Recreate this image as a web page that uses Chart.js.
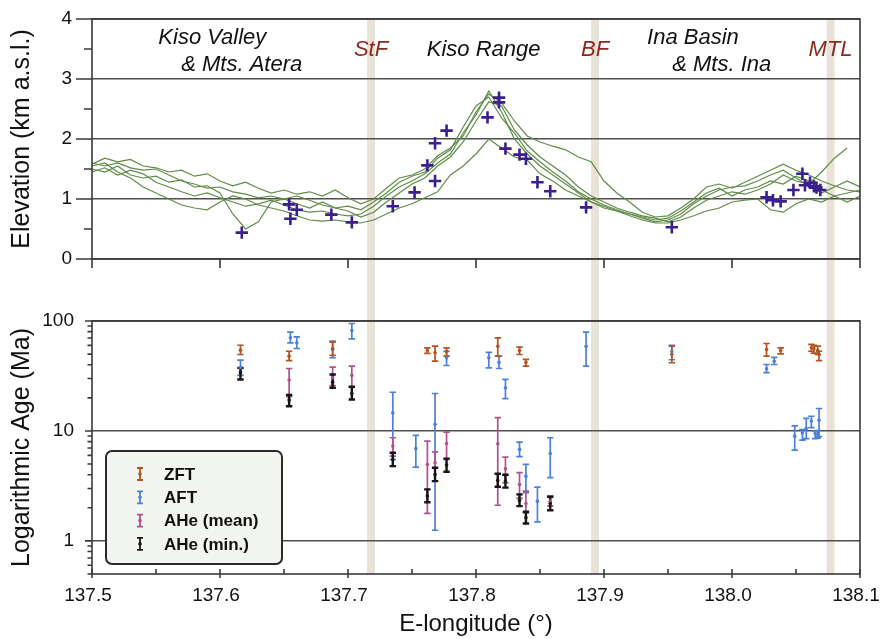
<!DOCTYPE html>
<html><head><meta charset="utf-8">
<script src="https://cdn.jsdelivr.net/npm/chart.js@4.4.1/dist/chart.umd.min.js"></script>
<style>
html,body{margin:0;padding:0;background:#fff;}
#wrap{position:relative;width:882px;height:639px;overflow:hidden;background:#fff;}
canvas{position:absolute;left:0;}
#c1{top:0}
#c2{top:300px}
</style></head><body>
<div id="wrap"><canvas id="c1" width="882" height="300"></canvas><canvas id="c2" width="882" height="339"></canvas></div>
<script>
// ---------------- DATA ----------------
const lonGrid = [137.50,137.51,137.52,137.53,137.54,137.55,137.56,137.57,137.58,137.59,
  137.60,137.61,137.62,137.63,137.64,137.65,137.66,137.67,137.68,137.69,
  137.70,137.71,137.72,137.73,137.74,137.75,137.76,137.77,137.78,137.79,
  137.80,137.81,137.82,137.83,137.84,137.85,137.86,137.87,137.88,137.89,
  137.90,137.91,137.92,137.93,137.94,137.95,137.96,137.97,137.98,137.99,
  138.00,138.01,138.02,138.03,138.04,138.05,138.06,138.07,138.08,138.09,138.10];
const profile1 = [1.58,1.68,1.62,1.66,1.55,1.52,1.45,1.48,1.38,1.42, 1.30,1.22,1.28,1.18,1.10,1.15,1.08,1.12,1.05,1.15, 1.02,0.92,1.00,1.18,1.35,1.40,1.50,1.72,1.85,2.05, 2.45,2.75,2.60,2.30,2.05,1.95,1.88,1.82,1.70,1.62, 1.30,1.10,0.95,0.78,0.70,0.72,0.85,1.00,1.20,1.25, 1.18,1.28,1.38,1.48,1.58,1.48,1.40,1.30,1.22,1.15,1.12];
const profile2 = [1.50,1.45,1.55,1.40,1.35,1.38,1.28,1.32,1.20,1.22, 1.10,0.75,0.50,0.62,0.95,1.00,0.92,0.85,0.95,0.85, 0.80,0.70,0.78,0.95,1.10,1.25,1.35,1.55,1.70,1.95, 2.30,2.62,2.55,2.15,1.90,1.70,1.55,1.40,1.20,1.05, 0.95,0.85,0.78,0.72,0.68,0.62,0.70,0.85,0.98,1.05, 1.12,1.08,1.15,1.25,1.40,1.30,1.25,1.45,1.68,1.85,null];
const profile3 = [1.55,1.60,1.45,1.35,1.20,1.10,1.00,0.90,0.85,0.82, 0.95,1.05,1.00,0.90,0.85,0.80,0.72,0.65,0.63,0.65, 0.62,0.60,0.65,0.75,0.85,0.92,1.02,1.12,1.40,1.55, 1.75,2.00,1.85,1.70,1.65,1.42,1.30,1.15,1.05,0.95, 0.88,0.80,0.72,0.65,0.60,0.60,0.65,0.72,0.80,0.85, 0.95,0.98,1.00,0.82,0.78,0.92,1.00,0.95,1.05,1.10,1.15];
const profile4 = [1.45,1.52,1.40,1.48,1.42,1.28,1.20,1.12,1.05,1.10, 1.02,0.95,0.88,0.92,0.98,0.90,0.82,0.78,0.80,0.75, 0.72,0.75,0.88,1.05,1.20,1.30,1.42,1.60,1.75,2.10, 2.40,2.80,2.45,2.00,1.75,1.55,1.40,1.25,1.10,0.95, 0.85,0.80,0.75,0.68,0.62,0.65,0.75,0.92,1.05,1.15, 1.20,1.22,1.30,1.40,1.48,1.35,1.22,1.10,1.20,1.30,1.20];
const profile5 = [1.60,1.55,1.60,1.52,1.48,1.50,1.40,1.30,1.25,1.18, 1.20,1.12,1.08,1.02,1.05,1.00,1.05,0.98,0.90,0.85, 0.88,0.82,0.95,1.10,1.28,1.38,1.45,1.68,1.82,2.20, 2.55,2.70,2.35,2.10,1.80,1.62,1.45,1.30,1.12,1.00, 0.90,0.82,0.75,0.70,0.65,0.68,0.80,0.95,1.10,1.18, 1.05,1.15,1.20,1.30,1.25,1.38,1.30,1.15,1.05,0.95,1.05];

const sampleLon  = [137.617,137.654,137.655,137.660,137.687,137.703,137.735,137.752,137.762,137.768,137.768,137.777,137.809,137.818,137.818,137.823,137.834,137.839,137.848,137.858,137.886,137.953,138.027,138.032,138.038,138.048,138.055,138.057,138.061,138.064,138.066,138.069];
const sampleElev = [0.44,0.91,0.67,0.82,0.74,0.61,0.88,1.11,1.56,1.30,1.93,2.14,2.36,2.69,2.61,1.84,1.74,1.67,1.28,1.13,0.86,0.53,1.03,0.98,0.96,1.15,1.42,1.23,1.27,1.21,1.19,1.15];

const faultNames = ['StF','BF','MTL'];
const faultLon   = [137.718,137.893,138.077];

const regionNames = ['Kiso Valley','& Mts. Atera','Kiso Range','Ina Basin','& Mts. Ina'];

const zftLon = [137.616,137.654,137.688,137.762,137.768,137.777,137.817,137.834,137.839,137.953,138.027,138.038,138.062,138.064,138.067,138.068];
const zftAge = [54.3,47.9,55.9,53.9,51.4,53.1,59.0,53.9,42.2,49.6,55.1,53.9,57.0,55.9,54.0,49.6];
const zftLo  = [49.6,43.7,48.6,50.7,43.1,47.9,47.9,49.6,38.8,41.7,47.9,50.3,53.1,51.0,49.6,43.7];
const zftHi  = [60.2,53.1,64.2,57.0,59.0,57.0,70.3,57.8,44.7,59.0,62.4,57.0,61.2,60.0,59.0,53.1];

const aftLon = [137.616,137.655,137.660,137.688,137.703,137.735,137.753,137.768,137.777,137.810,137.818,137.823,137.834,137.839,137.848,137.858,137.886,137.953,138.027,138.033,138.049,138.055,138.058,138.062,138.065,138.067,138.068];
const aftAge = [37.8,70.3,63.3,55.0,82.0,14.6,6.93,11.5,46.3,46.3,42.0,24.7,6.79,3.88,2.30,6.24,59.0,52.7,36.7,43.1,8.97,9.6,10.5,12.3,9.5,9.3,12.5];
const aftLo  = [32.0,63.3,56.2,46.3,68.9,5.5,4.69,1.25,39.4,37.5,37.0,19.7,5.83,2.74,1.49,3.76,38.8,44.4,33.9,40.2,6.69,8.25,8.5,10.7,8.5,8.6,8.9];
const aftHi  = [44.0,79.1,71.8,65.5,94.9,22.5,9.1,21.9,53.0,51.9,48.0,29.4,7.9,4.96,3.08,8.67,79.1,60.0,40.2,46.6,11.1,10.3,13.0,13.6,10.0,10.1,16.0];

const aheMeanLon = [137.654,137.688,137.703,137.735,137.762,137.768,137.777,137.817,137.823,137.834,137.839,137.858];
const aheMeanAge = [29.0,30.5,32.0,7.28,4.96,5.13,7.69,7.64,4.53,3.26,2.19,2.30];
const aheMeanLo  = [20.5,25.9,25.2,5.9,1.78,3.5,5.5,2.11,3.38,2.44,1.80,2.08];
const aheMeanHi  = [37.0,38.0,38.8,8.67,8.08,6.46,9.77,13.2,5.79,4.17,2.84,2.56];

const aheMinLon = [137.616,137.654,137.688,137.703,137.735,137.762,137.768,137.777,137.817,137.823,137.834,137.839,137.858];
const aheMinAge = [33.8,19.1,27.8,21.9,5.5,2.56,4.02,4.89,3.55,3.50,2.33,1.62,2.19];
const aheMinLo  = [29.4,16.8,24.7,19.3,4.79,2.25,3.5,4.25,3.11,3.05,2.07,1.44,1.90];
const aheMinHi  = [37.5,21.2,32.6,25.2,6.34,2.94,4.63,5.6,4.08,4.0,2.65,1.84,2.52];

const seriesNames = ['ZFT','AFT','AHe (mean)','AHe (min.)'];
const lonTicks = [137.5,137.6,137.7,137.8,137.9,138.0,138.1];
const lonMinorTicks = [137.55,137.65,137.75,137.85,137.95,138.05];
const elevTicks = [0,1,2,3,4];
const elevMinorTicks = [0.5,1.5,2.5,3.5];
const ageTicks = [1,10,100];
const ageMinorTicks = [0.5,0.6,0.7,0.8,0.9,2,3,4,5,6,7,8,9,20,30,40,50,60,70,80,90];

// ---------------- STYLE ----------------
const FONT = 'Liberation Sans, Arial, Helvetica, sans-serif';
Chart.defaults.font.family = FONT;
Chart.defaults.color = '#111';
const GRID = '#4f4f4f';
const AXIS = '#3a3a3a';
const BAND = '#eae2d7';
const BAND_HALF = 0.0031;
const LINE_GREEN = '#5e8c47';
const CROSS = '#3b1f8e';
const ageColors = ['#b4531f','#4b80dd','#b3508e','#151515'];
const ageWidths = [1.7,1.7,1.7,2.4];

// annotation placement (lon, elevation) for text labels
const regionPos = [[137.594,3.68],[137.617,3.24],[137.806,3.49],[137.9695,3.68],[137.992,3.24]];
const faultLabelElev = 3.49;

// ---------------- PLUGINS ----------------
function bandsPlugin(isTop){
  return {id:'bands', beforeDraw(chart){
    const {ctx, chartArea:a, scales:{x}} = chart;
    ctx.save(); ctx.fillStyle = BAND;
    faultLon.forEach(l=>{
      const x0 = x.getPixelForValue(l-BAND_HALF), x1 = x.getPixelForValue(l+BAND_HALF);
      const y0 = isTop ? a.top : 0, y1 = isTop ? chart.height : a.bottom;
      ctx.fillRect(x0, y0, x1-x0, y1-y0);
    });
    ctx.restore();
  }};
}
function frameTicksPlugin(spec){
  return {id:'frameTicks', afterDraw(chart){
    const {ctx, chartArea:a, scales:{x,y}} = chart;
    ctx.save(); ctx.strokeStyle = AXIS; ctx.lineWidth = 1.6;
    ctx.strokeRect(a.left, a.top, a.right-a.left, a.bottom-a.top);
    ctx.beginPath();
    spec.yMajor.forEach(v=>{const p=y.getPixelForValue(v); ctx.moveTo(a.left-spec.yMajorLen,p); ctx.lineTo(a.left,p);});
    spec.yMinor.forEach(v=>{const p=y.getPixelForValue(v); ctx.moveTo(a.left-spec.yMinorLen,p); ctx.lineTo(a.left,p);});
    spec.xMajor.forEach(v=>{const p=x.getPixelForValue(v); ctx.moveTo(p,a.bottom-spec.xMajorIn); ctx.lineTo(p,a.bottom+spec.xMajorOut);});
    spec.xMinor.forEach(v=>{const p=x.getPixelForValue(v); ctx.moveTo(p,a.bottom-spec.xMinorIn); ctx.lineTo(p,a.bottom);});
    ctx.stroke(); ctx.restore();
  }};
}
const annotationPlugin = {id:'annot', afterDatasetsDraw(chart){
  const {ctx, scales:{x,y}} = chart;
  ctx.save();
  ctx.font = 'italic 22px ' + FONT; ctx.textAlign='center'; ctx.textBaseline='middle';
  ctx.fillStyle = '#111';
  regionNames.forEach((t,i)=>ctx.fillText(t, x.getPixelForValue(regionPos[i][0]), y.getPixelForValue(regionPos[i][1])));
  ctx.fillStyle = '#8b2a1c';
  faultNames.forEach((t,i)=>ctx.fillText(t, x.getPixelForValue(faultLon[i]), y.getPixelForValue(faultLabelElev)));
  ctx.restore();
}};

const ageSeries = [
  {lon:aftLon, lo:aftLo, hi:aftHi, c:1},
  {lon:aheMeanLon, lo:aheMeanLo, hi:aheMeanHi, c:2},
  {lon:aheMinLon, lo:aheMinLo, hi:aheMinHi, c:3},
  {lon:zftLon, lo:zftLo, hi:zftHi, c:0}
];
const errorBarPlugin = {id:'errbars', beforeDatasetsDraw(chart){
  const {ctx, scales:{x,y}} = chart;
  ctx.save();
  ageSeries.forEach(s=>{
    ctx.strokeStyle = ageColors[s.c]; ctx.lineWidth = ageWidths[s.c];
    ctx.beginPath();
    s.lon.forEach((l,i)=>{
      const px = x.getPixelForValue(l), p1 = y.getPixelForValue(s.lo[i]), p2 = y.getPixelForValue(s.hi[i]);
      ctx.moveTo(px,p1); ctx.lineTo(px,p2);
      ctx.moveTo(px-3.2,p1); ctx.lineTo(px+3.2,p1);
      ctx.moveTo(px-3.2,p2); ctx.lineTo(px+3.2,p2);
    });
    ctx.stroke();
  });
  ctx.restore();
}};
const legendPlugin = {id:'ageLegend', afterDraw(chart){
  const {ctx, chartArea:a} = chart;
  const L = a.left+14, T = a.top+130, W = 176, H = 113, r = 6;
  ctx.save();
  ctx.beginPath();
  ctx.moveTo(L+r,T); ctx.lineTo(L+W-r,T); ctx.arcTo(L+W,T,L+W,T+r,r);
  ctx.lineTo(L+W,T+H-r); ctx.arcTo(L+W,T+H,L+W-r,T+H,r);
  ctx.lineTo(L+r,T+H); ctx.arcTo(L,T+H,L,T+H-r,r);
  ctx.lineTo(L,T+r); ctx.arcTo(L,T,L+r,T,r); ctx.closePath();
  ctx.fillStyle = '#f3f5f0'; ctx.fill();
  ctx.strokeStyle = '#2b2b2b'; ctx.lineWidth = 2; ctx.stroke();
  seriesNames.forEach((n,i)=>{
    const cy = T+23+i*23.3, cx = L+34;
    ctx.strokeStyle = ageColors[i]; ctx.fillStyle = ageColors[i]; ctx.lineWidth = 1.8;
    ctx.beginPath();
    ctx.moveTo(cx,cy-6); ctx.lineTo(cx,cy+6);
    ctx.moveTo(cx-3,cy-6); ctx.lineTo(cx+3,cy-6);
    ctx.moveTo(cx-3,cy+6); ctx.lineTo(cx+3,cy+6);
    ctx.stroke();
    ctx.beginPath(); ctx.arc(cx,cy,1.8,0,Math.PI*2); ctx.fill();
    ctx.fillStyle = '#111'; ctx.font = 'bold 17px ' + FONT;
    ctx.textAlign='left'; ctx.textBaseline='middle';
    ctx.fillText(n, L+58, cy+1);
  });
  ctx.restore();
}};

// ---------------- TOP CHART ----------------
const profiles = [profile1,profile2,profile3,profile4,profile5];
new Chart(document.getElementById('c1'), {
  type:'line',
  data:{datasets:[
    {type:'scatter', data: sampleLon.map((x,i)=>({x, y:sampleElev[i]})), pointStyle:'cross', pointRadius:6.2, pointBorderWidth:2.6, pointBorderColor:CROSS, pointBackgroundColor:CROSS},
    ...profiles.map(p=>({data: lonGrid.map((x,i)=>({x, y:p[i]})), borderColor:LINE_GREEN, borderWidth:1.2, pointRadius:0, tension:0, spanGaps:false}))
  ]},
  options:{
    responsive:false, animation:false, devicePixelRatio:1, events:[],
    layout:{padding:{top:19,right:22,left:0,bottom:0}},
    plugins:{legend:{display:false}, tooltip:{enabled:false}},
    scales:{
      x:{type:'linear', min:137.5, max:138.1, ticks:{display:false, stepSize:0.1}, grid:{display:false}, border:{display:false},
         afterFit(s){s.height=41; s.paddingLeft=0; s.paddingRight=0;}},
      y:{type:'linear', min:0, max:4, ticks:{stepSize:1, padding:20, color:'#111', font:{size:19}},
         grid:{color:GRID, lineWidth:1.6, drawTicks:false}, border:{display:false},
         title:{display:true, text:'Elevation (km a.s.l.)', color:'#111', font:{size:25}, padding:{top:7,bottom:0}},
         afterFit(s){s.width=92; s.paddingTop=0; s.paddingBottom=0;}}
    }
  },
  plugins:[bandsPlugin(true), frameTicksPlugin({yMajor:elevTicks, yMajorLen:16, yMinor:elevMinorTicks, yMinorLen:8, xMajor:lonTicks, xMajorIn:0, xMajorOut:9, xMinor:[], xMinorIn:0}), annotationPlugin]
});

// ---------------- BOTTOM CHART ----------------
const pts = (lon,age)=>lon.map((x,i)=>({x, y:age[i]}));
new Chart(document.getElementById('c2'), {
  type:'scatter',
  data:{datasets:[
    {label:seriesNames[0], data:pts(zftLon,zftAge), pointRadius:1.8, pointBackgroundColor:ageColors[0], pointBorderColor:ageColors[0], pointBorderWidth:0},
    {label:seriesNames[3], data:pts(aheMinLon,aheMinAge), pointRadius:1.8, pointBackgroundColor:ageColors[3], pointBorderColor:ageColors[3], pointBorderWidth:0},
    {label:seriesNames[2], data:pts(aheMeanLon,aheMeanAge), pointRadius:1.8, pointBackgroundColor:ageColors[2], pointBorderColor:ageColors[2], pointBorderWidth:0},
    {label:seriesNames[1], data:pts(aftLon,aftAge), pointRadius:1.8, pointBackgroundColor:ageColors[1], pointBorderColor:ageColors[1], pointBorderWidth:0}
  ]},
  options:{
    responsive:false, animation:false, devicePixelRatio:1, events:[],
    layout:{padding:{top:21,right:22,left:0,bottom:0}},
    plugins:{legend:{display:false}, tooltip:{enabled:false}},
    scales:{
      x:{type:'linear', min:137.5, max:138.1,
         ticks:{stepSize:0.1, padding:10, labelOffset:-4, color:'#111', font:{size:19}, callback:v=>Number(v).toFixed(1)},
         grid:{display:false, drawTicks:false}, border:{display:false},
         title:{display:true, text:'E-longitude (°)', color:'#111', font:{size:24}, padding:{top:0,bottom:0}},
         afterFit(s){s.height=65; s.paddingLeft=0; s.paddingRight=0;}},
      y:{type:'logarithmic', min:0.5, max:100,
         afterBuildTicks(s){s.ticks = ageTicks.map(v=>({value:v}));},
         ticks:{padding:18, color:'#111', font:{size:19}, callback:v=>String(v)},
         grid:{color:GRID, lineWidth:1.6, drawTicks:false}, border:{display:false},
         title:{display:true, text:'Logarithmic Age (Ma)', color:'#111', font:{size:25}, padding:{top:7,bottom:0}},
         afterFit(s){s.width=92; s.paddingTop=0; s.paddingBottom=0;}}
    }
  },
  plugins:[bandsPlugin(false), errorBarPlugin, frameTicksPlugin({yMajor:ageTicks, yMajorLen:7, yMinor:ageMinorTicks, yMinorLen:4.5, xMajor:lonTicks, xMajorIn:5, xMajorOut:4, xMinor:lonMinorTicks, xMinorIn:5}), legendPlugin]
});
</script>
</body></html>
